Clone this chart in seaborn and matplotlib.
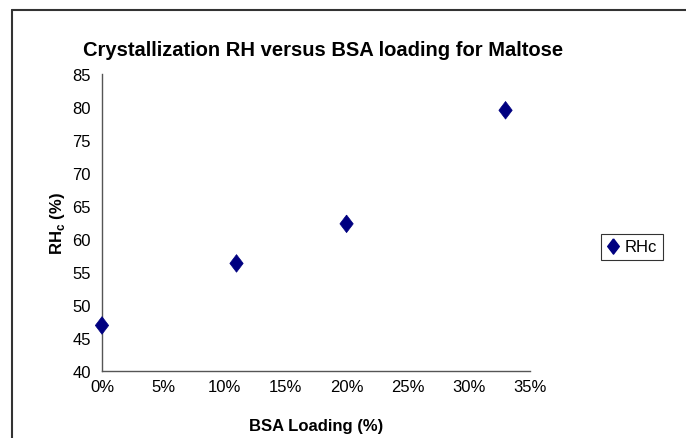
import matplotlib
matplotlib.use("Agg")
import matplotlib.pyplot as plt
from matplotlib.lines import Line2D
from matplotlib.ticker import FuncFormatter
import seaborn as sns
import pandas as pd

bsa_loading = [0.0, 11.0, 20.0, 33.0]
rhc = [46.9, 56.3, 62.3, 79.5]
series_name = "RHc"
x_ticks = [0, 5, 10, 15, 20, 25, 30, 35]
y_ticks = [40, 45, 50, 55, 60, 65, 70, 75, 80, 85]

sns.set_theme(style="white")
fam = ["Liberation Sans Narrow", "Liberation Sans", "DejaVu Sans"]
plt.rcParams["font.family"] = fam
plt.rcParams["text.color"] = "black"
plt.rcParams["axes.labelcolor"] = "black"

df = pd.DataFrame({"BSA": bsa_loading, "RHc": rhc, "series": series_name})

fig = plt.figure(figsize=(6.86, 4.39), dpi=100)
ax = fig.add_axes([102/686, 1-372/439, (530-102)/686, (372-75)/439])

diamond = [(0, 1), (0.76, 0), (0, -1), (-0.76, 0), (0, 1)]
sns.scatterplot(data=df, x="BSA", y="RHc", hue="series", palette=["#000080"],
                marker=diamond, s=160, edgecolor="#000080", linewidth=0.5,
                ax=ax, legend=False, clip_on=False, zorder=5)

ax.set_xlim(0, 35)
ax.set_ylim(40, 85)
ax.set_xticks(x_ticks)
ax.set_yticks(y_ticks)
ax.xaxis.set_major_formatter(FuncFormatter(lambda v, p: f"{int(round(v))}%"))
for s in ["top", "right"]:
    ax.spines[s].set_visible(False)
for s in ["left", "bottom"]:
    ax.spines[s].set_color("#555555")
    ax.spines[s].set_linewidth(1.0)
ax.tick_params(axis="both", which="major", direction="out", length=5, width=1,
               color="#555555", labelsize=12, labelcolor="black", pad=3)
ax.tick_params(axis="x", pad=1)
ax.grid(False)

ax.set_xlabel("BSA Loading (%)", fontsize=12, fontweight="bold", labelpad=17)
ax.set_ylabel(r"RH$_\mathregular{c}$ (%)", fontsize=12, fontweight="bold", labelpad=4)

fig.text(323/686, 1-50/439, "Crystallization RH versus BSA loading for Maltose",
         ha="center", va="center", fontsize=14.5, fontweight="bold", color="black")

handle = Line2D([], [], linestyle="none", marker=diamond, markersize=11,
                markerfacecolor="#000080", markeredgecolor="#000080")
leg = fig.legend([handle], [series_name], loc="center",
                 bbox_to_anchor=(632/686, 1-248/439), frameon=True,
                 fancybox=False, fontsize=12, handlelength=0.8,
                 handletextpad=0.3, borderpad=0.35, borderaxespad=0)
leg.get_frame().set_edgecolor("black")
leg.get_frame().set_linewidth(0.8)

fig.add_artist(Line2D([12/686, 12/686], [1-11/439, -0.05], transform=fig.transFigure,
                      color="#333333", linewidth=1.5))
fig.add_artist(Line2D([12/686, 1.05], [1-11/439, 1-11/439], transform=fig.transFigure,
                      color="#333333", linewidth=1.5))

fig.savefig("out.png", dpi=100)
